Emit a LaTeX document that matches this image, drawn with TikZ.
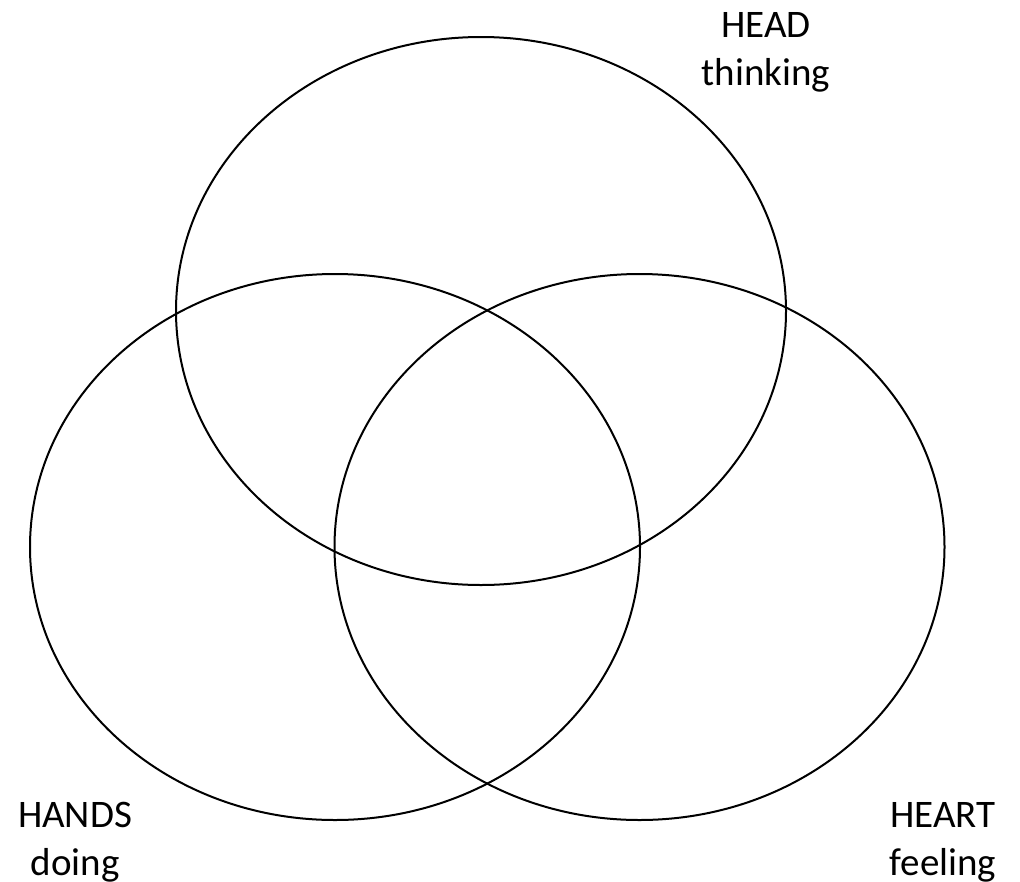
\documentclass[tikz,border=0pt]{standalone}
\usepackage{fontspec}
\setmainfont{Carlito}
\begin{document}
\begin{tikzpicture}[x=1pt,y=-1pt,
  ring/.style={draw=black,line width=2pt},
  lbl/.style={font=\fontsize{39}{48}\selectfont,align=center,inner sep=0pt,anchor=base}]
\useasboundingbox (0,0) rectangle (1020,881);
\draw[ring] (481,311) ellipse [x radius=305, y radius=274];
\draw[ring] (335,547) ellipse [x radius=305, y radius=273];
\draw[ring] (639.5,547) ellipse [x radius=305, y radius=273];
\node[lbl] (head) at (766,85) {HEAD\\thinking};
\node[lbl] (hands) at (75,875) {HANDS\\doing};
\node[lbl] (heart) at (943,875) {HEART\\feeling};
\end{tikzpicture}
\end{document}
